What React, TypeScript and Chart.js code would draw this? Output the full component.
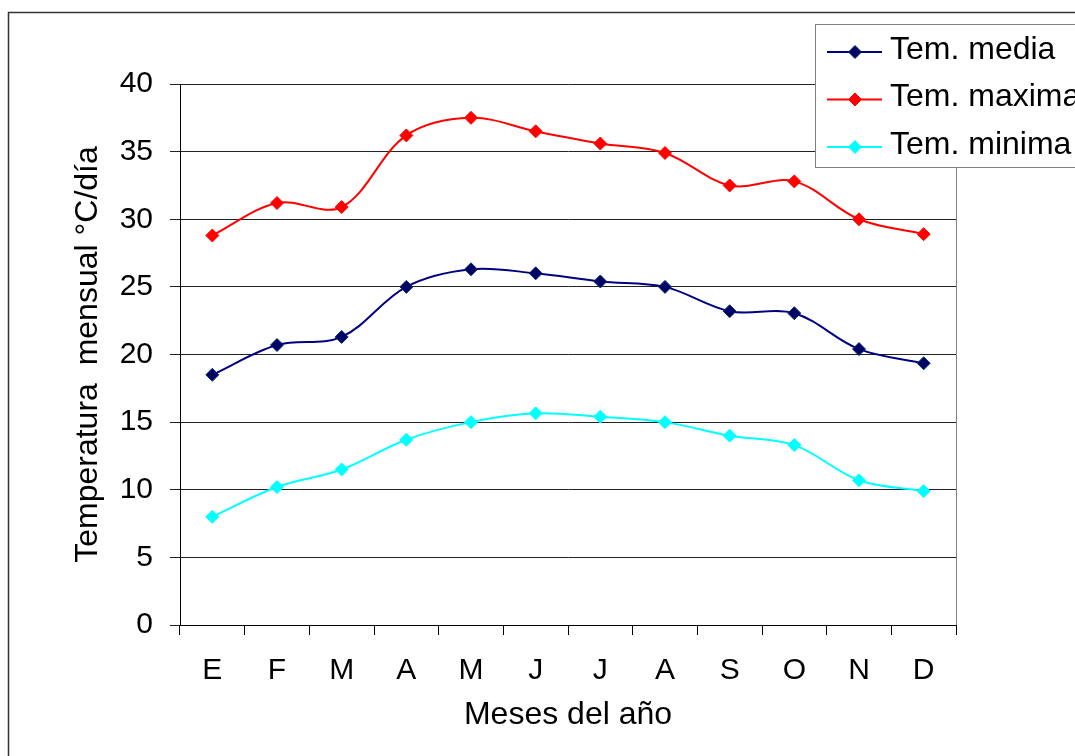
import React, { useEffect, useRef } from "react";
import { Chart, registerables } from "chart.js";

Chart.register(...registerables);

const months = ["E", "F", "M", "A", "M", "J", "J", "A", "S", "O", "N", "D"];
const temMedia = [18.5, 20.7, 21.3, 25.0, 26.3, 26.0, 25.4, 25.0, 23.2, 23.05, 20.4, 19.35];
const temMaxima = [28.8, 31.2, 30.9, 36.2, 37.5, 36.5, 35.6, 34.9, 32.5, 32.8, 30.0, 28.9];
const temMinima = [8.0, 10.2, 11.5, 13.7, 15.0, 15.65, 15.4, 15.0, 14.0, 13.3, 10.7, 9.9];
const seriesNames = ["Tem. media", "Tem. maxima", "Tem. minima"];
const yTitle = "Temperatura  mensual °C/día";
const xTitle = "Meses del año";

const FONT = "'Liberation Sans', Arial, sans-serif";

const framePlugin = {
  id: "frame",
  afterDraw(chart: any) {
    const { ctx, chartArea } = chart;
    ctx.save();
    // right border of plot area
    ctx.strokeStyle = "#808080";
    ctx.lineWidth = 1;
    ctx.beginPath();
    ctx.moveTo(Math.round(chartArea.right) + 0.5, chartArea.top);
    ctx.lineTo(Math.round(chartArea.right) + 0.5, chartArea.bottom);
    ctx.stroke();
    // outer border
    ctx.strokeStyle = "#333333";
    ctx.lineWidth = 1.5;
    ctx.strokeRect(8.5, 12.5, 1200, 900);
    // legend
    const lx = 815.5, ly = 24.5;
    ctx.fillStyle = "#ffffff";
    ctx.fillRect(lx, ly, 300, 143);
    ctx.strokeStyle = "#808080";
    ctx.lineWidth = 1;
    ctx.strokeRect(lx, ly, 300, 143);
    chart.data.datasets.forEach((ds: any, i: number) => {
      const y = 52 + i * 47.5;
      ctx.strokeStyle = ds.borderColor;
      ctx.lineWidth = 2;
      ctx.beginPath();
      ctx.moveTo(827, y);
      ctx.lineTo(882, y);
      ctx.stroke();
      const r = 6.5;
      ctx.fillStyle = ds.pointBackgroundColor;
      ctx.strokeStyle = ds.pointBorderColor;
      ctx.lineWidth = 1;
      ctx.beginPath();
      ctx.moveTo(855 - r, y);
      ctx.lineTo(855, y - r);
      ctx.lineTo(855 + r, y);
      ctx.lineTo(855, y + r);
      ctx.closePath();
      ctx.fill();
      ctx.stroke();
      ctx.fillStyle = "#000000";
      ctx.font = `32px ${FONT}`;
      ctx.textBaseline = "middle";
      ctx.textAlign = "left";
      ctx.fillText(ds.label, 890, y - 2);
    });
    ctx.restore();
  },
};

export default function App() {
  const ref = useRef<HTMLCanvasElement | null>(null);
  useEffect(() => {
    if (!ref.current) return;
    const mk = (label: string, data: number[], line: string, fill: string, border: string) => ({
      label,
      data,
      borderColor: line,
      backgroundColor: line,
      borderWidth: 2,
      tension: 0.35,
      pointStyle: "rectRot",
      pointRadius: 6.5,
      pointBackgroundColor: fill,
      pointBorderColor: border,
      pointBorderWidth: 1,
      fill: false,
    });
    const chart = new Chart(ref.current, {
      type: "line",
      data: {
        labels: months,
        datasets: [
          mk(seriesNames[0], temMedia, "#000080", "#000066", "#003366"),
          mk(seriesNames[1], temMaxima, "#FF0000", "#FF0000", "#FF0000"),
          mk(seriesNames[2], temMinima, "#00FFFF", "#00FFFF", "#00FFFF"),
        ] as any,
      },
      options: {
        animation: false,
        responsive: true,
        maintainAspectRatio: false,
        layout: { padding: { left: 60, top: 84, right: 119, bottom: 0 } },
        plugins: { legend: { display: false }, tooltip: { enabled: false } },
        scales: {
          x: {
            type: "category",
            offset: true,
            grid: { display: true, drawOnChartArea: false, drawTicks: true, tickLength: 10, color: "#000", offset: true },
            border: { display: true, color: "#000", width: 1 },
            ticks: { color: "#000", font: { family: FONT, size: 30 }, padding: 18, maxRotation: 0, autoSkip: false },
            title: { display: true, text: xTitle, color: "#000", font: { family: FONT, size: 32 }, padding: { top: 0, bottom: 22 } },
            afterFit: (s: any) => { s.height = 131; },
          },
          y: {
            min: 0,
            max: 40,
            ticks: { stepSize: 5, color: "#000", font: { family: FONT, size: 30 }, padding: 17 },
            grid: { color: "#222", lineWidth: 1, tickLength: 10, drawTicks: true },
            border: { display: true, color: "#000", width: 1 },
            title: { display: true, text: yTitle, color: "#000", font: { family: FONT, size: 32 }, padding: { top: 9, bottom: 0 } },
            afterFit: (s: any) => { s.width = 120; },
          },
        },
      },
      plugins: [framePlugin],
    });
    return () => chart.destroy();
  }, []);
  return (
    <div style={{ position: "absolute", left: 0, top: 0, width: 1075, height: 756, background: "#fff" }}>
      <canvas ref={ref} />
    </div>
  );
}
